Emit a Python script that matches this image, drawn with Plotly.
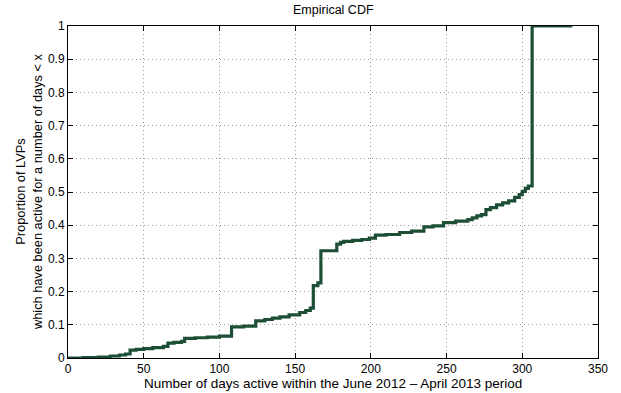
import plotly.graph_objects as go

# Empirical CDF of active days (step function, value holds from each day onward)
days = [0, 10, 20, 28, 34, 38, 41, 45, 50, 56, 63, 66, 70, 75, 77, 84, 92, 100,
        108, 116, 124, 130, 135, 140, 146, 153, 157, 160, 162, 165, 167, 177.5,
        180, 182, 188, 194, 199, 203, 210, 219, 227, 235, 241, 248, 256, 264,
        267, 270, 273, 276, 279, 283, 287, 291, 295, 298, 300, 302, 304, 306.5, 333]
proportion = [0.0, 0.001, 0.003, 0.006, 0.009, 0.012, 0.024, 0.026, 0.028, 0.031,
              0.035, 0.045, 0.047, 0.050, 0.059, 0.061, 0.063, 0.066, 0.094, 0.096,
              0.112, 0.116, 0.120, 0.124, 0.130, 0.137, 0.143, 0.150, 0.218, 0.226,
              0.323, 0.343, 0.348, 0.351, 0.354, 0.357, 0.361, 0.370, 0.372, 0.378,
              0.382, 0.395, 0.398, 0.408, 0.412, 0.417, 0.422, 0.428, 0.432, 0.447,
              0.453, 0.461, 0.467, 0.473, 0.484, 0.492, 0.502, 0.511, 0.518, 1.0, 1.0]

x_ticks = [0, 50, 100, 150, 200, 250, 300, 350]
y_ticks = [0, 0.1, 0.2, 0.3, 0.4, 0.5, 0.6, 0.7, 0.8, 0.9, 1]
y_tick_text = ["0", "0.1", "0.2", "0.3", "0.4", "0.5", "0.6", "0.7", "0.8", "0.9", "1"]

title = "Empirical CDF"
x_title = "Number of days active within the June 2012 \u2013 April 2013 period"
y_title = "Proportion of LVPs<br>which have been active for a number of days < x"

FONT = "Liberation Sans, Arial, Helvetica, sans-serif"

fig = go.Figure()
fig.add_trace(go.Scatter(
    x=days, y=proportion, mode="lines", line_shape="hv",
    line=dict(color="#1c4f36", width=3.2), showlegend=False,
))

axis_common = dict(
    showline=True, linecolor="black", linewidth=1, mirror="ticks",
    ticks="inside", ticklen=5, tickcolor="black", tickwidth=1,
    showgrid=True, gridcolor="#9a9a9a", griddash="1px,3px", gridwidth=1,
    zeroline=False, tickfont=dict(family=FONT, size=12, color="black"),
)

fig.update_xaxes(range=[0, 350], tickvals=x_ticks, ticklabelstandoff=0, **axis_common)
fig.update_yaxes(range=[0, 1], tickvals=y_ticks, ticktext=y_tick_text, **axis_common)

fig.update_layout(
    width=621, height=393,
    margin=dict(l=68, r=23, t=26, b=35),
    paper_bgcolor="white", plot_bgcolor="white",
    font=dict(family=FONT, size=12, color="black"),
    annotations=[
        dict(text=title, xref="paper", yref="paper", x=0.5, y=1, yshift=16,
             showarrow=False, font=dict(size=12.5), xanchor="center", yanchor="middle"),
        dict(text=x_title, xref="paper", yref="paper", x=0.5, y=0, yshift=-25,
             showarrow=False, font=dict(size=13.5), xanchor="center", yanchor="middle"),
        dict(text=y_title, xref="paper", yref="paper", x=0, xshift=-39, y=0.5,
             textangle=-90, showarrow=False, font=dict(size=12.8),
             xanchor="center", yanchor="middle"),
    ],
)

fig.write_html("out.html")
